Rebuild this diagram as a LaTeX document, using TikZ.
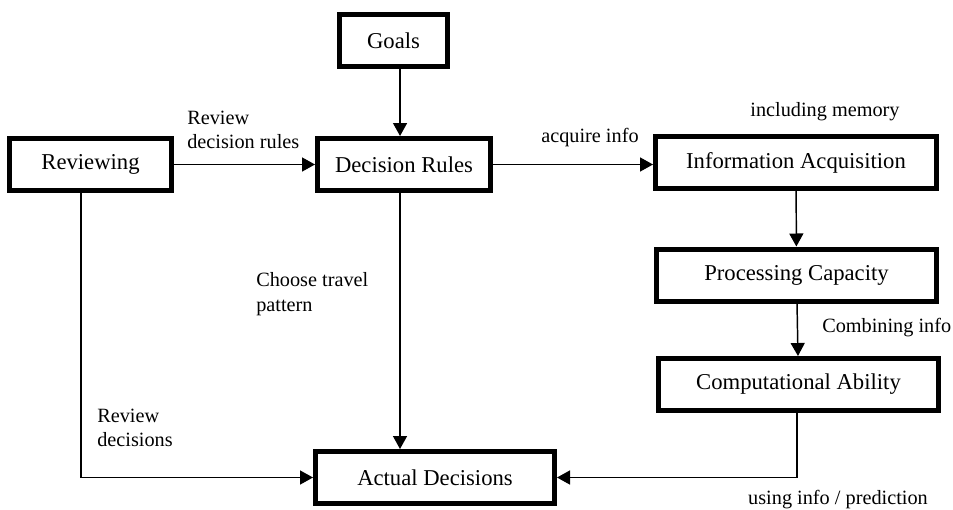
\documentclass[tikz,border=0pt]{standalone}
\usepackage{fontspec}
\setmainfont{Liberation Serif}
\usetikzlibrary{arrows.meta}
\begin{document}
\begin{tikzpicture}
[x=0.75pt,y=-0.75pt,
  boxdecorate/.style={shape=rectangle,draw,line width=3.75pt,inner sep=0pt,
    minimum height=39pt,font=\fontsize{17}{20}\selectfont},
  linedecorate/.style={-{Triangle[length=9.75pt,width=10.5pt]},line width=1.1pt},
  labeldecorate/.style={inner sep=0pt,align=left,font=\fontsize{15.2}{18.5}\selectfont}]
\useasboundingbox (0,0) rectangle (953,510);
%% boxes
\foreach \nodename/\x/\y/\w/\txt in {goals/393.5/41/113/Goals,
    rules/404/164.5/178/Decision Rules, review/90.5/164.5/167/Reviewing,
    acquis/796/162.5/286/Information Acquisition,
    capac/796.5/275/285/Processing Capacity,
    ability/798.5/384.5/285/Computational Ability,
    actual/435/477.5/244/Actual Decisions} {
  \node (\nodename) at (\x,\y) [boxdecorate,minimum width=(\w-5)*0.75pt] {\txt};
}
%% connectors
\path
\foreach \startnode/\endnode in {review/rules, acquis/capac, capac/ability} {
  (\startnode) edge[linedecorate] (\endnode)
};
\draw[linedecorate] ([xshift=4.9pt]goals.south) -- ([xshift=4.9pt]goals.south |- rules.north);
\draw[linedecorate] (rules.east) -- (rules.east -| acquis.west);
\draw[linedecorate] ([xshift=-3pt]rules.south) -- ([xshift=-3pt]rules.south |- actual.north);
\draw[linedecorate] ([xshift=-7.1pt]review.south) |- (actual.west);
\draw[linedecorate] ([xshift=-1pt]ability.south) |- (actual.east);
%% labels
\foreach \lbl/\x/\y/\anch/\txt in {lrules/187/130/west/{Review\\decision rules},
    lacq/541/138/west/{acquire info}, lmem/825/112/center/{including memory},
    lcomb/822/328/west/{Combining info}, ltravel/256/294/west/{Choose travel\\pattern},
    ldec/97/428/west/{Review\\decisions}, lpred/838/500/center/{using info / prediction}} {
  \node (\lbl) at (\x,\y) [labeldecorate,anchor=\anch] {\txt};
}
\end{tikzpicture}
\end{document}
